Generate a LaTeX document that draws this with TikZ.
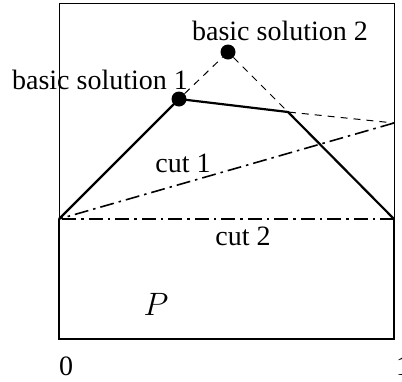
\documentclass[tikz,border=0pt]{standalone}
\usepackage{fontspec}
\setmainfont{Liberation Serif}
\begin{document}
\begin{tikzpicture}[x=1pt,y=-1pt,
  thinline/.style={line width=1pt},
  thickline/.style={line width=2.2pt},
  dashline/.style={line width=1pt, dash pattern=on 7pt off 6pt},
  cutline/.style={line width=1.6pt, dash pattern=on 14pt off 5pt on 2.5pt off 5pt},
  vtx/.style={circle, fill=black, inner sep=0pt, minimum size=15pt},
  lbl/.style={font=\fontsize{28}{30}\selectfont, inner sep=0pt}]
\useasboundingbox (0,0) rectangle (402,381);
\coordinate (TL) at (59,3);
\coordinate (TR) at (394,3);
\coordinate (A) at (59,219);
\coordinate (B) at (394,219);
\coordinate (BL) at (59,339);
\coordinate (BR) at (394,339);
\coordinate (C) at (288,112);
\coordinate (E) at (394,123);
\node[vtx] (bs1) at (179,99) {};
\node[vtx] (bs2) at (228,52) {};
% frame
\draw[thinline] (A) -- (TL) -- (TR) -- (B);
\draw[thickline] (A) -- (BL) -- (BR) -- (B);
% polytope top
\draw[thickline, line join=round] (A) -- (bs1.center) -- (C) -- (B);
% dashed
\draw[dashline] (bs1) -- (bs2) -- (C) -- (E);
% cuts
\draw[cutline] (B) -- (A);
\draw[cutline] (E) -- (A);
% labels
\node[lbl] (l2) at (280,31) {basic solution 2};
\node[lbl] (l1) at (100,80) {basic solution 1};
\node[lbl] (c1) at (183,163) {cut 1};
\node[lbl] (c2) at (243,236) {cut 2};
\node[lbl, scale=1.3] (p) at (156,304) {$P$};
\node[lbl, anchor=west] (z) at (59,366) {0};
\node[lbl, anchor=west] (o) at (396,366) {1};
\end{tikzpicture}
\end{document}
